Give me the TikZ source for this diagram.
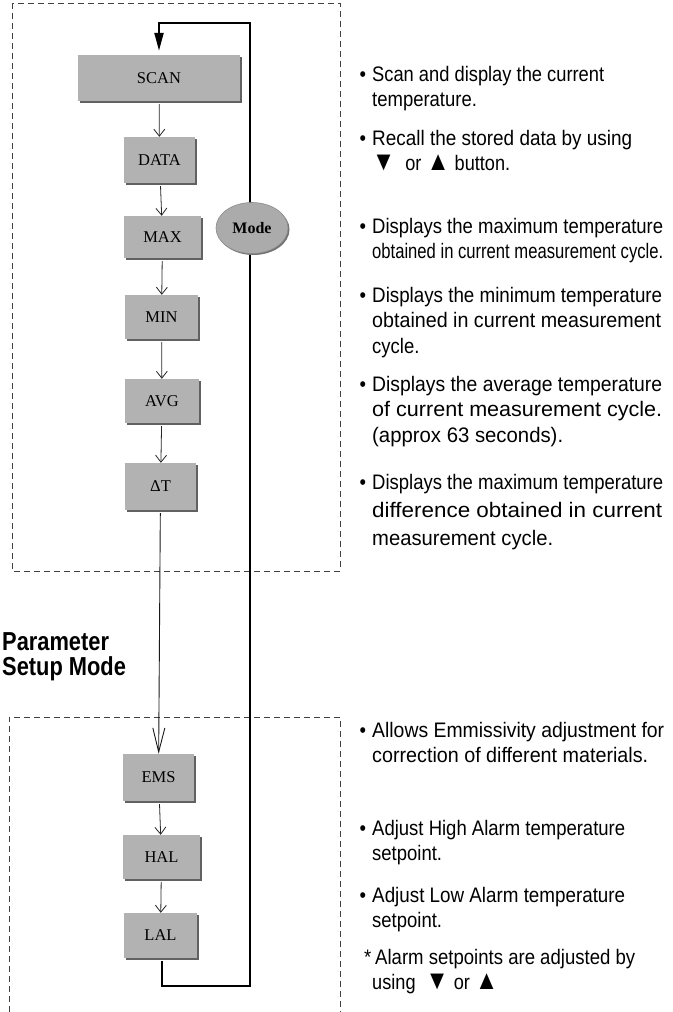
\documentclass[tikz,border=0pt]{standalone}
\usepackage{fontspec}
\usepackage{graphicx}
\setmainfont{Liberation Serif}
\newfontfamily\notefont[FakeStretch=0.88]{Liberation Sans}
\newfontfamily\headfont[FakeStretch=0.84]{Liberation Sans}
\usetikzlibrary{arrows.meta,shapes.geometric,shadows}

\newlength{\du}
\setlength{\du}{1pt}

\tikzset{
  grpframe/.style={draw=black!75, line width=1\du, dash pattern=on 6\du off 4\du},
  stepbox/.style={fill=black!30, inner sep=0pt, font=\fontsize{16.5}{18}\selectfont,
    drop shadow={shadow xshift=2\du, shadow yshift=-2\du, fill=black!62, opacity=1}},
  modeoval/.style={ellipse, fill=black!33, draw=black!45, line width=0.6\du, inner sep=0pt,
    minimum width=72\du, minimum height=51\du, font=\bfseries\fontsize{16}{18}\selectfont,
    drop shadow={shadow xshift=1.5\du, shadow yshift=-1.5\du, fill=black!55, opacity=1}},
  flowarr/.style={draw=black!85, line width=0.8\du, shorten <=3\du,
    -{Straight Barb[length=7pt,width=11pt]}},
  longarr/.style={draw=black!90, line width=0.9\du, shorten <=3\du,
    -{Straight Barb[length=24pt,width=12pt]}},
  looparr/.style={draw=black, line width=2.2\du, shorten <=3\du, shorten >=4\du,
    -{Triangle[length=18pt,width=9pt]}},
  notetext/.style={anchor=north west, align=left, inner sep=0pt,
    font=\notefont\fontsize{21}{25.5}\selectfont},
  headtext/.style={anchor=north west, align=left, inner sep=0pt,
    font=\headfont\bfseries\fontsize{26}{25}\selectfont}
}
\newcommand{\bul}{\llap{\textbullet\hspace{6pt}}}
\newcommand{\fitline}[2]{\resizebox{#1\du}{\height}{#2}}
\newcommand{\dntri}{{\fontsize{27}{25}\selectfont▼}}
\newcommand{\uptri}{{\fontsize{27}{25}\selectfont▲}}

\begin{document}
\begin{tikzpicture}
\pgftransformxscale{1.000000}
\pgftransformyscale{-1.000000}
\useasboundingbox (0\du,0\du) rectangle (672\du,1012\du);
% group frames
\draw[grpframe] (12\du,3\du) rectangle (340\du,571\du);
\draw[grpframe] (9\du,1012\du)--(9\du,717\du)--(340\du,717\du)--(340\du,1012\du);
% scan mode steps
\node[stepbox, minimum width=162\du, minimum height=46\du] (scan) at (159\du,78\du) {SCAN};
\node[stepbox, minimum width=71\du, minimum height=46\du] (data) at (159.5\du,160\du) {DATA};
\node[stepbox, minimum width=77\du, minimum height=42\du] (max) at (162.5\du,237\du) {MAX};
\node[stepbox, minimum width=73\du, minimum height=44\du] (min) at (161.5\du,317\du) {MIN};
\node[stepbox, minimum width=74\du, minimum height=44\du] (avg) at (162\du,401\du) {AVG};
\node[stepbox, minimum width=71\du, minimum height=47\du] (dt) at (160.5\du,486.5\du) {ΔT};
% parameter setup steps
\node[stepbox, minimum width=71\du, minimum height=47\du] (ems) at (158.5\du,777.5\du) {EMS};
\node[stepbox, minimum width=77\du, minimum height=44\du] (hal) at (161.5\du,857\du) {HAL};
\node[stepbox, minimum width=73\du, minimum height=45\du] (lal) at (160.5\du,935.5\du) {LAL};
\draw[flowarr] (scan) -- (data);
\draw[flowarr] (data) -- (max);
\draw[flowarr] (max) -- (min);
\draw[flowarr] (min) -- (avg);
\draw[flowarr] (avg) -- (dt);
\draw[longarr] (dt) -- (ems);
\draw[flowarr] (ems) -- (hal);
\draw[flowarr] (hal) -- (lal);
% mode loop
\coordinate (loopbot) at (250\du,986\du);
\coordinate (looptop) at (250\du,23\du);
\draw[looparr] ([xshift=1.5\du]lal.south) |- (loopbot) -- (looptop) -| (scan.north);
\node[modeoval] (mode) at (252\du,228\du) {Mode};
\node[headtext] (setup) at (2\du,632\du) {Parameter\\Setup Mode};
% notes
\node[notetext] (nscan) at (372\du,66\du) {\bul\fitline{232}{Scan and display the current}\\temperature.};
\node[notetext] (ndata) at (372\du,130\du) {\bul\fitline{260}{Recall the stored data by using}\\\fitline{138}{\dntri\ \ or \uptri\ button.}};
\node[notetext] (nmax) at (372\du,218\du) {\bul\fitline{291}{Displays the maximum temperature}\\\fitline{291}{obtained in current measurement cycle.}};
\node[notetext] (nmin) at (372\du,287\du) {\bul\fitline{290}{Displays the minimum temperature}\\\fitline{289}{obtained in current measurement}\\cycle.};
\node[notetext] (navg) at (372\du,376\du) {\bul\fitline{290}{Displays the average temperature}\\\fitline{290}{of current measurement cycle.}\\\fitline{191}{(approx 63 seconds).}};
\node[notetext, font=\notefont\fontsize{21}{28}\selectfont] (ndt) at (372\du,474\du) {\bul\fitline{291}{Displays the maximum temperature}\\\fitline{290}{difference obtained in current}\\\fitline{181}{measurement cycle.}};
\node[notetext] (nems) at (372\du,722\du) {\bul\fitline{292}{Allows Emmissivity adjustment for}\\\fitline{276}{correction of different materials.}};
\node[notetext] (nhal) at (372\du,820\du) {\bul\fitline{253}{Adjust High Alarm temperature}\\setpoint.};
\node[notetext] (nlal) at (372\du,887\du) {\bul\fitline{253}{Adjust Low Alarm temperature}\\setpoint.};
\node[notetext] (nalarm) at (372\du,949\du) {\llap{*\hspace{1pt}}\hspace{3pt}\fitline{260}{Alarm setpoints are adjusted by}\\\fitline{126}{using \ \dntri\ or \uptri}};
\end{tikzpicture}
\end{document}
